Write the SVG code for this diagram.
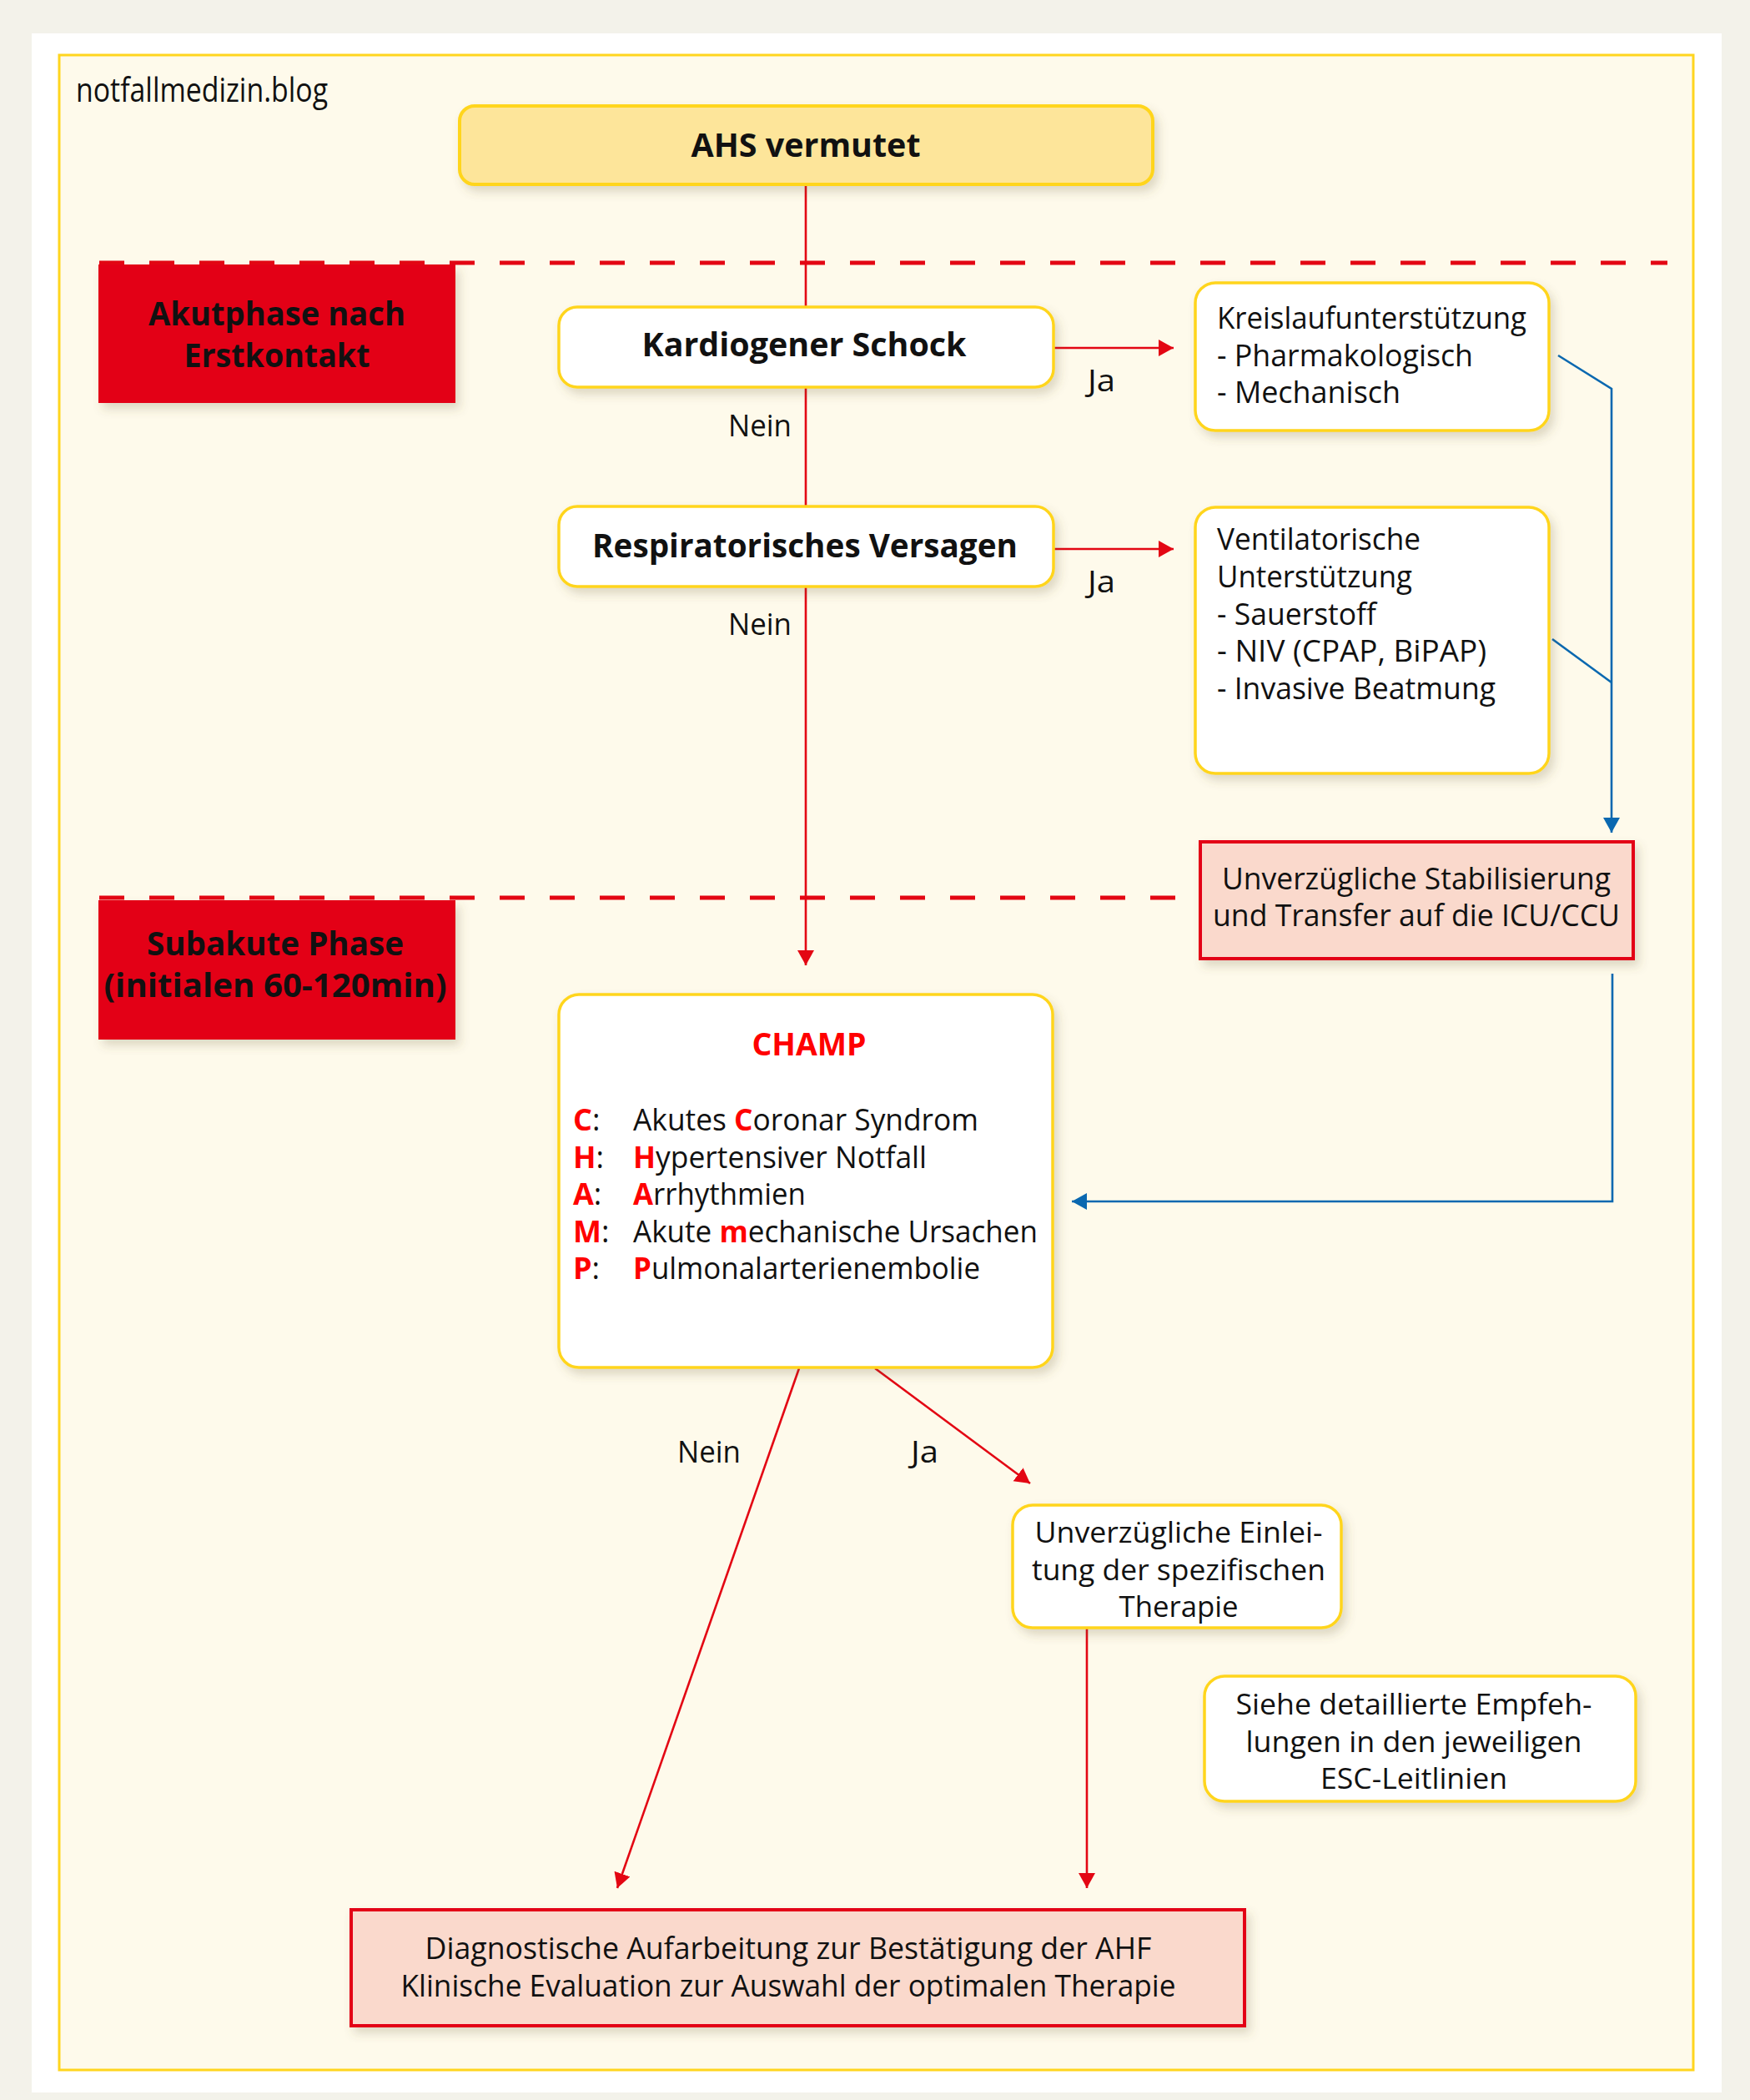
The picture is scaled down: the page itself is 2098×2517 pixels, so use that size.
<svg xmlns="http://www.w3.org/2000/svg" width="2098" height="2517" viewBox="0 0 2098 2517">
<style>
text{font-family:"Open Sans","Noto Sans","Liberation Sans",sans-serif;fill:#111}
.b{font-weight:700}
.t{font-size:36px}
.s{font-size:34px}
.h{font-size:40px;font-weight:700}
.red{fill:#ff0000;font-weight:700}
.ybox{fill:#ffffff;stroke:#ffd51e;stroke-width:3.5}
.rbox{fill:#fad9cc;stroke:#e30613;stroke-width:4}
.phase{fill:#e30613}
.rl{fill:none;stroke:#e30613;stroke-width:2.6}
.bl{fill:none;stroke:#0a68b0;stroke-width:2.6}
.dash{fill:none;stroke:#e30613;stroke-width:5;stroke-dasharray:30 30}
</style>
<defs>
<filter id="sh" x="-10%" y="-10%" width="130%" height="140%">
<feDropShadow dx="5" dy="7" stdDeviation="6" flood-color="#6b5a30" flood-opacity="0.22"/>
</filter>
<marker id="ar" markerUnits="userSpaceOnUse" markerWidth="20" markerHeight="22" refX="18" refY="10" orient="auto">
<path d="M0,0 L18,10 L0,20 z" fill="#e30613"/>
</marker>
<marker id="ab" markerUnits="userSpaceOnUse" markerWidth="20" markerHeight="22" refX="18" refY="10" orient="auto">
<path d="M0,0 L18,10 L0,20 z" fill="#0a68b0"/>
</marker>
</defs>
<rect x="0" y="0" width="2098" height="2517" fill="#f3f2ea"/>
<rect x="38" y="40" width="2026" height="2468" fill="#ffffff"/>
<rect x="71" y="66" width="1959" height="2415" fill="#fefaeb" stroke="#ffd51e" stroke-width="3"/>
<text x="91" y="122" font-size="40" textLength="302" lengthAdjust="spacingAndGlyphs">notfallmedizin.blog</text>

<g id="phases">
<path class="dash" d="M119,315 L1999,315"/>
<path class="dash" d="M119,1076 L1440,1076"/>
</g>

<g id="connectors">
<path class="rl" d="M966,221 L966,1157" marker-end="url(#ar)"/>
<path class="rl" d="M1263,417 L1407,417" marker-end="url(#ar)"/>
<path class="rl" d="M1263,658 L1407,658" marker-end="url(#ar)"/>
<path class="bl" d="M1868,426 L1932,466 L1932,998" marker-end="url(#ab)"/>
<path class="bl" d="M1861,766 L1932,818"/>
<path class="bl" d="M1933,1167 L1933,1440 L1285,1440" marker-end="url(#ab)"/>
<path class="rl" d="M958,1640 L740,2263" marker-end="url(#ar)"/>
<path class="rl" d="M1049,1640 L1235,1778" marker-end="url(#ar)"/>
<path class="rl" d="M1303,1951 L1303,2263" marker-end="url(#ar)"/>
<text class="t" x="873" y="523" textLength="76" lengthAdjust="spacingAndGlyphs">Nein</text>
<text class="t" x="1304" y="469" textLength="33" lengthAdjust="spacingAndGlyphs">Ja</text>
<text class="t" x="873" y="761" textLength="76" lengthAdjust="spacingAndGlyphs">Nein</text>
<text class="t" x="1304" y="710" textLength="33" lengthAdjust="spacingAndGlyphs">Ja</text>
<text class="t" x="812" y="1753" textLength="76" lengthAdjust="spacingAndGlyphs">Nein</text>
<text class="t" x="1092" y="1753" textLength="33" lengthAdjust="spacingAndGlyphs">Ja</text>
</g>

<g id="ahs">
<rect x="551" y="127" width="831" height="94" rx="18" fill="#fde59a" stroke="#ffd51e" stroke-width="4" filter="url(#sh)"/>
<text class="h" x="966" y="188" text-anchor="middle" textLength="275" lengthAdjust="spacingAndGlyphs">AHS vermutet</text>
</g>

<g id="akutphase">
<rect class="phase" x="118" y="317" width="428" height="166" filter="url(#sh)"/>
<text class="h" x="332" y="390" text-anchor="middle" textLength="308" lengthAdjust="spacingAndGlyphs">Akutphase nach</text>
<text class="h" x="332" y="440" text-anchor="middle" textLength="223" lengthAdjust="spacingAndGlyphs">Erstkontakt</text>
</g>

<g id="subakut">
<rect class="phase" x="118" y="1079" width="428" height="167" filter="url(#sh)"/>
<text class="h" x="330" y="1145" text-anchor="middle" textLength="308" lengthAdjust="spacingAndGlyphs">Subakute Phase</text>
<text class="h" x="330" y="1195" text-anchor="middle" textLength="411" lengthAdjust="spacingAndGlyphs">(initialen 60-120min)</text>
</g>

<g id="schock">
<rect class="ybox" x="670" y="368" width="593" height="96" rx="22" filter="url(#sh)"/>
<text class="h" x="964" y="427" text-anchor="middle" textLength="389" lengthAdjust="spacingAndGlyphs">Kardiogener Schock</text>
</g>

<g id="resp">
<rect class="ybox" x="670" y="607" width="593" height="96" rx="22" filter="url(#sh)"/>
<text class="h" x="965" y="668" text-anchor="middle" textLength="510" lengthAdjust="spacingAndGlyphs">Respiratorisches Versagen</text>
</g>

<g id="kreislauf">
<rect class="ybox" x="1433" y="339" width="424" height="177" rx="24" filter="url(#sh)"/>
<text class="t" x="1459" y="394" textLength="371" lengthAdjust="spacingAndGlyphs">Kreislaufunterstützung</text>
<text class="t" x="1459" y="439" textLength="307" lengthAdjust="spacingAndGlyphs">- Pharmakologisch</text>
<text class="t" x="1459" y="483" textLength="220" lengthAdjust="spacingAndGlyphs">- Mechanisch</text>
</g>

<g id="ventilation">
<rect class="ybox" x="1433" y="608" width="424" height="319" rx="24" filter="url(#sh)"/>
<text class="t" x="1459" y="659" textLength="244" lengthAdjust="spacingAndGlyphs">Ventilatorische</text>
<text class="t" x="1459" y="704" textLength="234" lengthAdjust="spacingAndGlyphs">Unterstützung</text>
<text class="t" x="1459" y="749" textLength="191" lengthAdjust="spacingAndGlyphs">- Sauerstoff</text>
<text class="t" x="1459" y="793" textLength="323" lengthAdjust="spacingAndGlyphs">- NIV (CPAP, BiPAP)</text>
<text class="t" x="1459" y="838" textLength="334" lengthAdjust="spacingAndGlyphs">- Invasive Beatmung</text>
</g>

<g id="stabilisierung">
<rect class="rbox" x="1439" y="1009" width="519" height="140" filter="url(#sh)"/>
<text class="t" x="1698" y="1066" text-anchor="middle" textLength="466" lengthAdjust="spacingAndGlyphs">Unverzügliche Stabilisierung</text>
<text class="t" x="1698" y="1110" text-anchor="middle" textLength="488" lengthAdjust="spacingAndGlyphs">und Transfer auf die ICU/CCU</text>
</g>

<g id="champ">
<rect class="ybox" x="670" y="1192" width="592" height="447" rx="24" filter="url(#sh)"/>
<text x="970" y="1265" text-anchor="middle" font-size="38" class="red" textLength="137" lengthAdjust="spacingAndGlyphs">CHAMP</text>
<text class="t" x="687" y="1355"><tspan class="red">C</tspan>:</text>
<text class="t" x="759" y="1355" textLength="414" lengthAdjust="spacingAndGlyphs">Akutes <tspan class="red">C</tspan>oronar Syndrom</text>
<text class="t" x="687" y="1400"><tspan class="red">H</tspan>:</text>
<text class="t" x="759" y="1400" textLength="352" lengthAdjust="spacingAndGlyphs"><tspan class="red">H</tspan>ypertensiver Notfall</text>
<text class="t" x="687" y="1444"><tspan class="red">A</tspan>:</text>
<text class="t" x="759" y="1444" textLength="207" lengthAdjust="spacingAndGlyphs"><tspan class="red">A</tspan>rrhythmien</text>
<text class="t" x="687" y="1489"><tspan class="red">M</tspan>:</text>
<text class="t" x="759" y="1489" textLength="485" lengthAdjust="spacingAndGlyphs">Akute <tspan class="red">m</tspan>echanische Ursachen</text>
<text class="t" x="687" y="1533"><tspan class="red">P</tspan>:</text>
<text class="t" x="759" y="1533" textLength="416" lengthAdjust="spacingAndGlyphs"><tspan class="red">P</tspan>ulmonalarterienembolie</text>
</g>

<g id="einleitung">
<rect class="ybox" x="1214" y="1804" width="394" height="147" rx="24" filter="url(#sh)"/>
<text class="s" x="1413" y="1849" text-anchor="middle" textLength="345" lengthAdjust="spacingAndGlyphs">Unverzügliche Einlei-</text>
<text class="s" x="1413" y="1894" text-anchor="middle" textLength="352" lengthAdjust="spacingAndGlyphs">tung der spezifischen</text>
<text class="s" x="1413" y="1938" text-anchor="middle" textLength="143" lengthAdjust="spacingAndGlyphs">Therapie</text>
</g>

<g id="siehe">
<rect class="ybox" x="1444" y="2009" width="517" height="150" rx="24" filter="url(#sh)"/>
<text class="s" x="1695" y="2055" text-anchor="middle" textLength="427" lengthAdjust="spacingAndGlyphs">Siehe detaillierte Empfeh-</text>
<text class="s" x="1695" y="2100" text-anchor="middle" textLength="403" lengthAdjust="spacingAndGlyphs">lungen in den jeweiligen</text>
<text class="s" x="1695" y="2144" text-anchor="middle" textLength="224" lengthAdjust="spacingAndGlyphs">ESC-Leitlinien</text>
</g>

<g id="diagnostik">
<rect class="rbox" x="421" y="2289" width="1071" height="139" stroke-width="5" filter="url(#sh)"/>
<text class="t" x="945" y="2348" text-anchor="middle" textLength="871" lengthAdjust="spacingAndGlyphs">Diagnostische Aufarbeitung zur Bestätigung der AHF</text>
<text class="t" x="945" y="2393" text-anchor="middle" textLength="929" lengthAdjust="spacingAndGlyphs">Klinische Evaluation zur Auswahl der optimalen Therapie</text>
</g>
</svg>
